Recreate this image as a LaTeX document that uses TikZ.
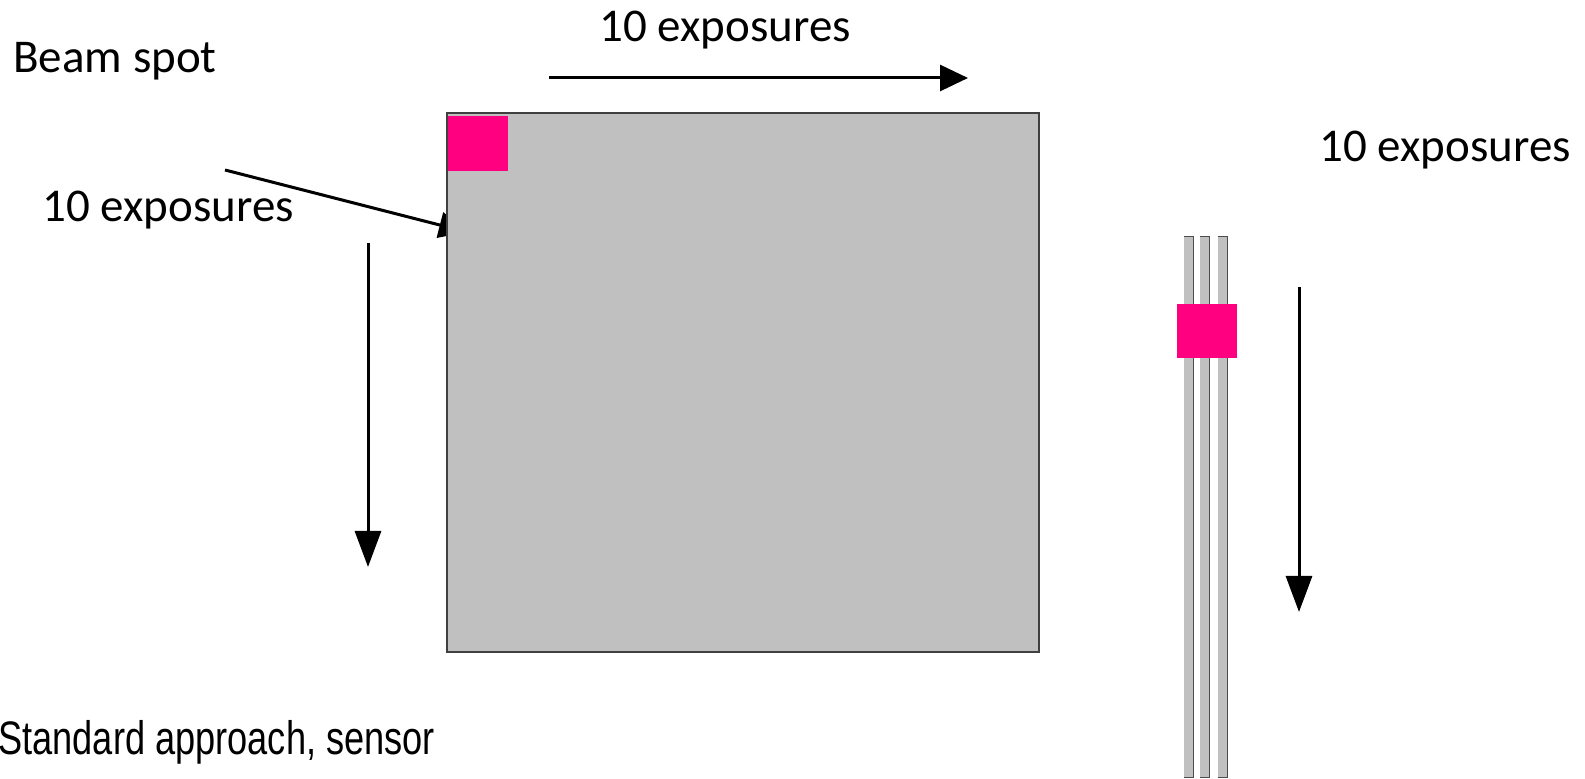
\documentclass[tikz,border=0pt]{standalone}
\usepackage{fontspec}
\setmainfont{Carlito}
\newfontfamily\arialfont[FakeStretch=0.77]{Liberation Sans}
\usetikzlibrary{arrows.meta}
\definecolor{sensorgray}{HTML}{C0C0C0}
\definecolor{spotpink}{HTML}{FF0080}

\begin{document}
\begin{tikzpicture}[x=0.5pt, y=-0.5pt]
    % Define styles
    \tikzset{
        label/.style={
            font=\fontsize{23.5}{28}\selectfont,
            inner sep=0pt,
            anchor=base west
        },
        scan/.style={
            line width=1.5pt,
            -{Triangle[length=14pt, width=13pt]}
        },
        scandown/.style={
            line width=1.5pt,
            -{Triangle[length=18pt, width=13pt]}
        },
        sensor/.style={
            draw=black!75,
            line width=0.8pt,
            fill=sensorgray,
            inner sep=0pt
        },
        spot/.style={
            fill=spotpink,
            inner sep=0pt
        },
        strip/.style={
            fill=sensorgray,
            inner sep=0pt,
            minimum width=4.5pt,
            minimum height=270pt
        },
        stripedge/.style={
            black!70,
            line width=0.6pt
        }
    }
    \useasboundingbox (0,0) rectangle (1585,779);

    % Beam spot pointer (its tip runs under the sensor)
    \coordinate (beamtail) at (225,170);
    \coordinate (beamtip) at (467,232);
    \draw[scan] (beamtail) -- (beamtip);

    % Standard sensor with beam spot
    \node[sensor, minimum width=296pt, minimum height=269.5pt] (sensor) at (743,382.5) {};
    \node[spot, minimum width=30pt, minimum height=27.5pt] (spotsensor) at (478,143.5) {};

    % Scan directions over the sensor
    \coordinate (rowstart) at (549,78);
    \coordinate (rowend) at (968,78);
    \draw[scan] (rowstart) -- (rowend);
    \coordinate (colstart) at (368,243);
    \coordinate (colend) at (368,567);
    \draw[scandown] (colstart) -- (colend);

    % Strips
    \foreach \name/\x in {stripa/1188.5, stripb/1204.5, stripc/1222.5} {
        \node[strip] (\name) at (\x,507) {};
        \draw[stripedge] (\name.north west) -- (\name.north east) -- (\name.south east) -- (\name.south west);
    }
    \node[spot, minimum width=30pt, minimum height=27pt] (spotstrip) at (1207,331) {};

    % Scan direction over the strips
    \coordinate (stripstart) at (1299,287);
    \coordinate (stripend) at (1299,612);
    \draw[scandown] (stripstart) -- (stripend);

    % Labels
    \node[label] (beamlabel) at (13,73) {Beam spot};
    \node[label] (collabel) at (42,222) {10 exposures};
    \node[label] (rowlabel) at (599,42) {10 exposures};
    \node[label] (striplabel) at (1319,162) {10 exposures};
    \node[inner sep=0pt, anchor=base west, font=\arialfont\fontsize{23.5}{28}\selectfont] (caption) at (-2,755) {Standard approach, sensor};

\end{tikzpicture}
\end{document}
